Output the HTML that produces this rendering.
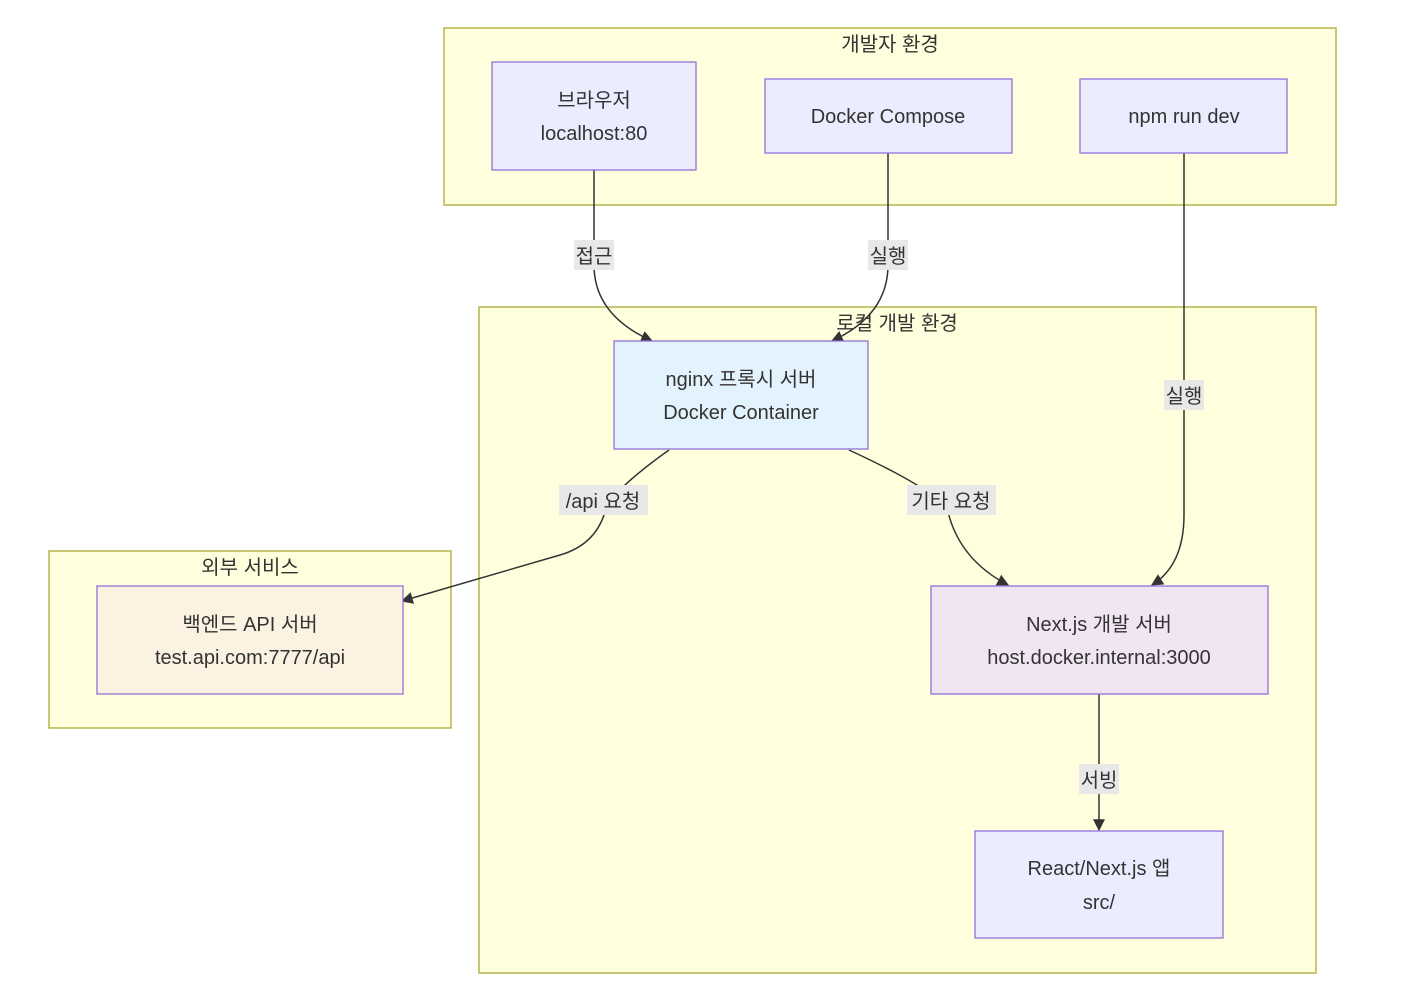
<!DOCTYPE html>
<html><head><meta charset="utf-8"><style>
html,body{margin:0;padding:0;background:#fff;}
svg{display:block;font-family:"Liberation Sans","Noto Sans CJK KR",sans-serif;}
.c{fill:#ffffde;stroke:#aaaa33;stroke-width:1.3}
.n{stroke:#9370DB;stroke-width:1.3}
.t{font-size:20px;fill:#333;text-anchor:middle}
.e{fill:none;stroke:#333;stroke-width:1.5}
.lb{fill:#e8e8e8}
</style></head><body>
<svg width="1410" height="1003" viewBox="0 0 1410 1003">
<defs><marker id="a" viewBox="0 0 10 10" refX="9" refY="5" markerWidth="8" markerHeight="8" orient="auto-start-reverse"><path d="M0,0L10,5L0,10z" fill="#333"/></marker></defs>
<rect class="c" x="444" y="28" width="892" height="177"/>
<text class="t" x="890" y="51">개발자 환경</text>
<rect class="c" x="479" y="307" width="837" height="666"/>
<text class="t" x="897" y="330">로컬 개발 환경</text>
<rect class="c" x="49" y="551" width="402" height="177"/>
<text class="t" x="250" y="574">외부 서비스</text>

<path class="e" d="M594,170 L594,265 Q594,315 652,341" marker-end="url(#a)"/>
<path class="e" d="M888,153 L888,265 Q888,315 832,341" marker-end="url(#a)"/>
<path class="e" d="M1184,153 L1184,515 Q1184,565 1152,585" marker-end="url(#a)"/>
<path class="e" d="M669,450 Q610,492 605,512 Q595,545 560,555 L402,601" marker-end="url(#a)"/>
<path class="e" d="M849,450 Q940,492 948,512 Q960,560 1008,585" marker-end="url(#a)"/>
<path class="e" d="M1099,694 L1099,830" marker-end="url(#a)"/>

<rect class="lb" x="574" y="240" width="40" height="30"/><text class="t" x="594" y="263">접근</text>
<rect class="lb" x="868" y="240" width="40" height="30"/><text class="t" x="888" y="263">실행</text>
<rect class="lb" x="1164" y="380" width="40" height="30"/><text class="t" x="1184" y="403">실행</text>
<rect class="lb" x="559" y="485" width="89" height="30"/><text class="t" x="603" y="508">/api 요청</text>
<rect class="lb" x="907" y="485" width="89" height="30"/><text class="t" x="951" y="508">기타 요청</text>
<rect class="lb" x="1079" y="764" width="40" height="30"/><text class="t" x="1099" y="787">서빙</text>

<rect class="n" fill="#ececff" x="492" y="62" width="204" height="108"/>
<text class="t" x="594" y="107">브라우저</text><text class="t" x="594" y="140">localhost:80</text>
<rect class="n" fill="#ececff" x="765" y="79" width="247" height="74"/>
<text class="t" x="888" y="123">Docker Compose</text>
<rect class="n" fill="#ececff" x="1080" y="79" width="207" height="74"/>
<text class="t" x="1184" y="123">npm run dev</text>
<rect class="n" fill="#e3f3fd" x="614" y="341" width="254" height="108"/>
<text class="t" x="741" y="386">nginx 프록시 서버</text><text class="t" x="741" y="419">Docker Container</text>
<rect class="n" fill="#fcf2e2" x="97" y="586" width="306" height="108"/>
<text class="t" x="250" y="631">백엔드 API 서버</text><text class="t" x="250" y="664">test.api.com:7777/api</text>
<rect class="n" fill="#f1e4f3" x="931" y="586" width="337" height="108"/>
<text class="t" x="1099" y="631">Next.js 개발 서버</text><text class="t" x="1099" y="664">host.docker.internal:3000</text>
<rect class="n" fill="#ececff" x="975" y="831" width="248" height="107"/>
<text class="t" x="1099" y="875">React/Next.js 앱</text><text class="t" x="1099" y="909">src/</text>
</svg>
</body></html>
